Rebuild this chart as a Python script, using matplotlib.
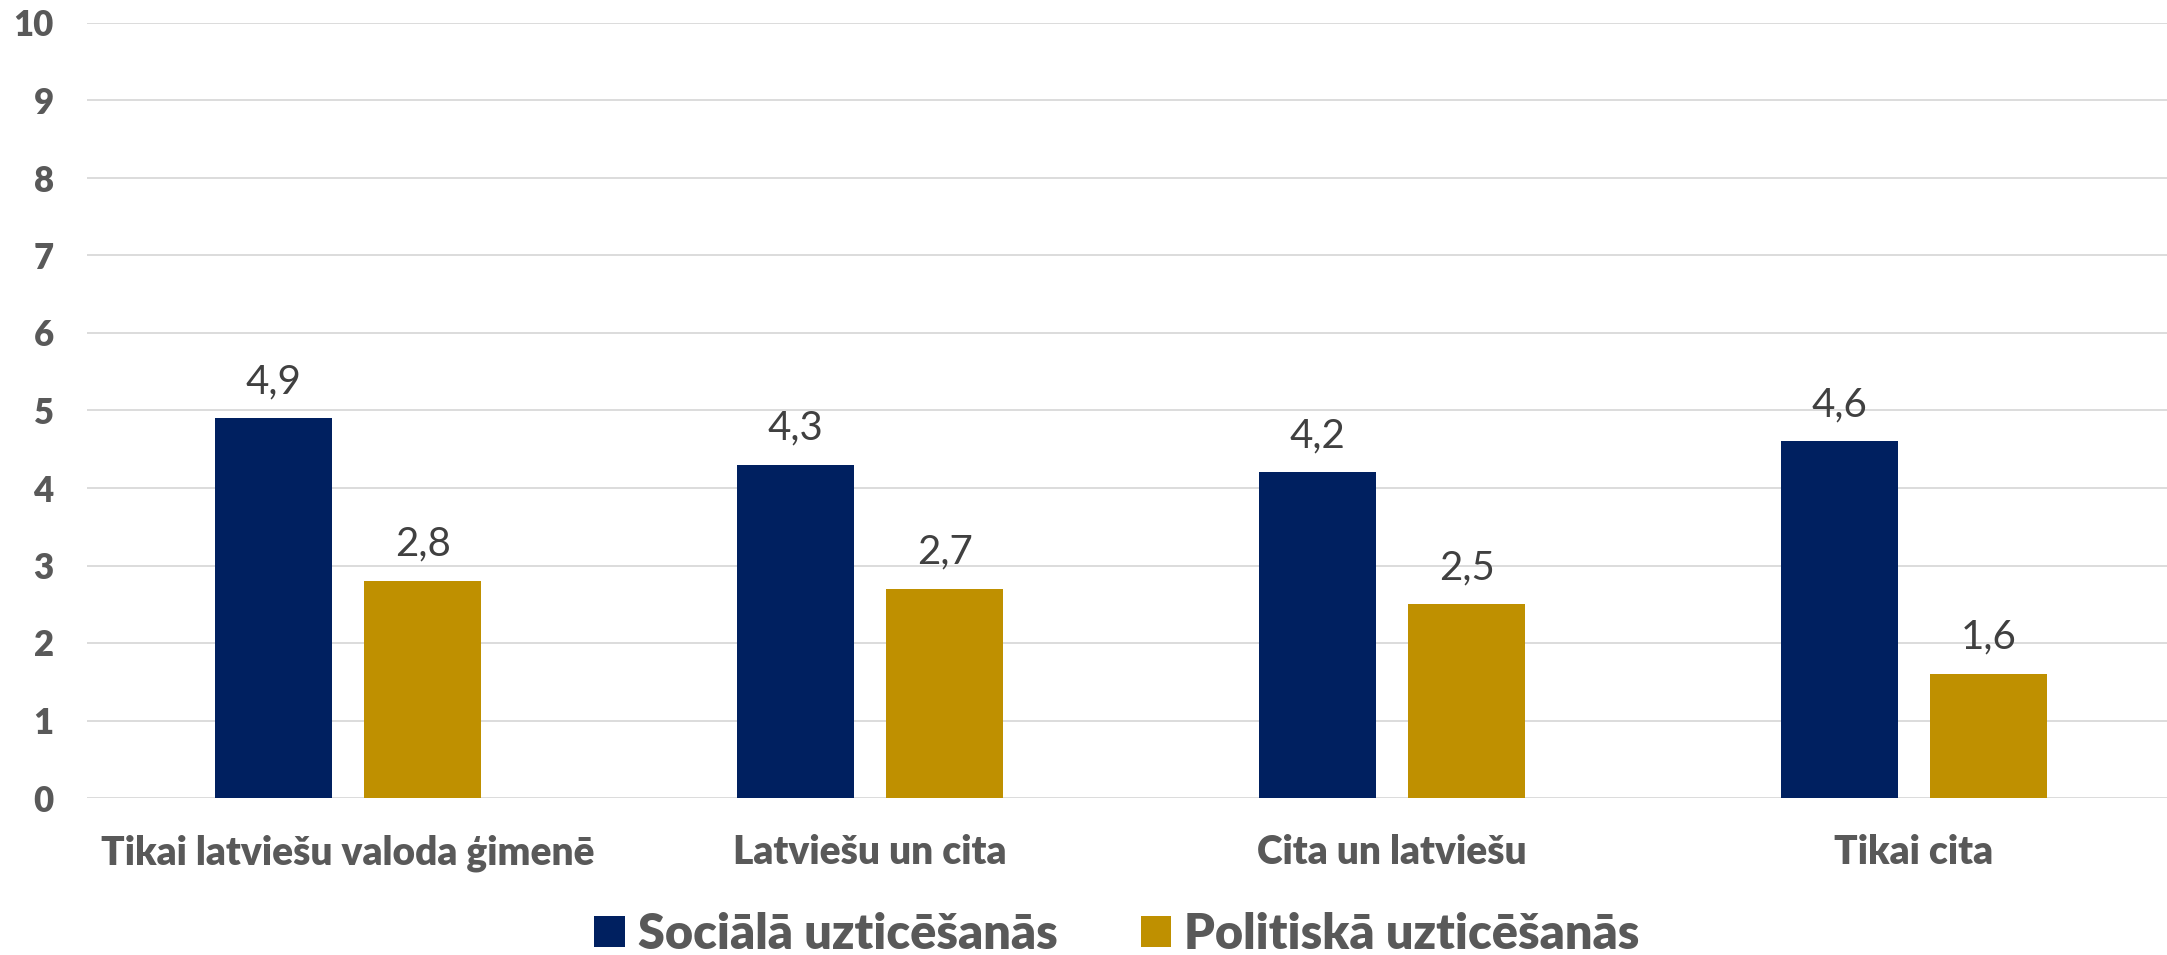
import matplotlib
matplotlib.use("Agg")
import matplotlib.pyplot as plt
from matplotlib.patches import Patch
import numpy as np

categories = ["Tikai latviešu valoda ģimenē", "Latviešu un cita", "Cita un latviešu", "Tikai cita"]
social = [4.9, 4.3, 4.2, 4.6]
political = [2.8, 2.7, 2.5, 1.6]
series_names = ["Sociālā uzticēšanās", "Politiskā uzticēšanās"]
yticks = list(range(0, 11))

C_SOC = "#002060"
C_POL = "#BF9000"
TXT = "#595959"

plt.rcParams['font.family'] = ['Lato', 'DejaVu Sans']

W, H = 2167, 955
fig = plt.figure(figsize=(W / 100, H / 100), dpi=100)
ax = fig.add_axes([87 / W, 157 / H, 2088 / W, 775 / H])

x = np.arange(len(categories))
bw = 0.224
off = 0.143
b1 = ax.bar(x - off, social, bw, color=C_SOC, zorder=3)
b2 = ax.bar(x + off, political, bw, color=C_POL, zorder=3)

for bars, vals in ((b1, social), (b2, political)):
    for r, v in zip(bars, vals):
        ax.annotate(f"{v:.1f}".replace(".", ","),
                    (r.get_x() + r.get_width() / 2, r.get_height()),
                    xytext=(0, 13), textcoords="offset points",
                    ha="center", va="bottom", fontsize=29, color="#404040")

ax.set_xlim(-0.5, 3.5)
ax.set_ylim(0, 10)
ax.set_yticks(yticks)
ax.set_yticklabels([str(t) for t in yticks], fontsize=25, fontweight="heavy", color=TXT)
ax.set_xticks(x)
ax.set_xticklabels(categories, fontsize=28, fontweight="heavy", color=TXT)
ax.tick_params(axis="y", length=0, pad=24)
ax.tick_params(axis="x", length=0, pad=26)
ax.grid(axis="y", color="#D9D9D9", linewidth=1.3, zorder=0)
for s in ax.spines.values():
    s.set_visible(False)

handles = [Patch(facecolor=C_SOC), Patch(facecolor=C_POL)]
fig.legend(handles, series_names, loc="center",
           bbox_to_anchor=(1117 / W, 1 - 934 / H), ncol=2, frameon=False,
           prop={"size": 35, "weight": "heavy"}, labelcolor=TXT,
           handlelength=0.62, handleheight=0.62, handletextpad=0.28,
           columnspacing=1.7, borderpad=0, borderaxespad=0)

fig.savefig("out.png", dpi=100)
